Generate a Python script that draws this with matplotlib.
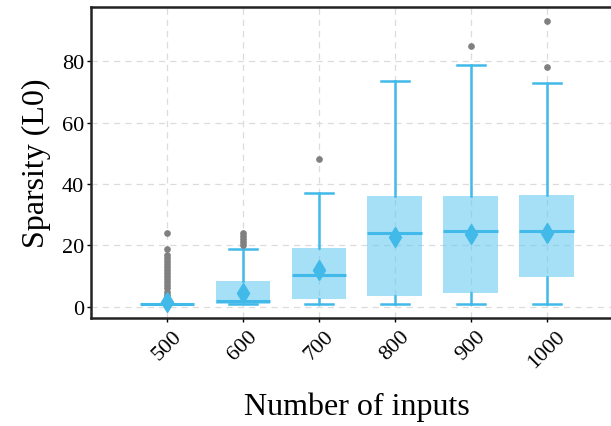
import matplotlib
matplotlib.use('Agg')
import matplotlib.pyplot as plt

# values
inputs   = ['500', '600', '700', '800', '900', '1000']
q1       = [1.0, 1.0, 2.6, 3.7, 4.4, 9.6]
medians  = [1.0, 2.0, 10.4, 24.0, 24.8, 24.8]
q3       = [1.0, 8.5, 19.1, 36.0, 36.0, 36.4]
whislo   = [1.0, 1.0, 1.0, 1.0, 1.0, 1.0]
whishi   = [1.0, 19.0, 37.0, 73.6, 78.7, 72.8]
means    = [1.5, 4.6, 12.1, 22.8, 23.8, 24.2]
outliers = [
  [2, 3, 4, 5, 6, 7, 8, 9, 10, 11, 12, 13, 14, 15, 16, 17, 19, 24],
  [20, 21, 22, 23, 24],
  [48],
  [],
  [85],
  [78, 93],
]

plt.rcParams['font.family'] = ['Liberation Serif', 'DejaVu Serif']

line_c = '#41b9e9'
fill_c = '#5cc8f2'

stats = []
for i in range(len(inputs)):
  stats.append(dict(label=inputs[i], q1=q1[i], med=medians[i], q3=q3[i],
                    whislo=whislo[i], whishi=whishi[i], mean=means[i],
                    fliers=outliers[i]))

fig = plt.figure(figsize=(6.11, 4.27), dpi=100)
ax = fig.add_axes([0.149, 0.253, 0.87, 0.728])

ax.bxp(stats, positions=range(len(inputs)), widths=0.72, patch_artist=True,
       showmeans=True,
       boxprops=dict(facecolor=fill_c, alpha=0.55, linewidth=0),
       medianprops=dict(color=line_c, linewidth=2.2),
       whiskerprops=dict(color=line_c, linewidth=1.8),
       capprops=dict(color=line_c, linewidth=1.8),
       capwidths=0.37,
       meanprops=dict(marker='d', markerfacecolor=line_c, markeredgecolor=line_c,
                      markersize=10),
       flierprops=dict(marker='o', markerfacecolor='#808080',
                       markeredgecolor='#808080', markersize=3.8))

ax.set_xlim(-1, 6)
ax.set_ylim(-3.6, 97.6)
ax.set_yticks([0, 20, 40, 60, 80])
ax.set_xticks(range(len(inputs)))
ax.set_xticklabels(inputs, rotation=45, fontsize=16)
ax.tick_params(axis='y', labelsize=16, length=3, width=1, pad=2)
ax.tick_params(axis='x', length=3, width=1)

ax.grid(True, color='#dcdcdc', linestyle=(0, (5, 4)), linewidth=0.9)
ax.set_axisbelow(True)
for s in ax.spines.values():
  s.set_linewidth(1.8)
  s.set_color('#222222')

ax.set_ylabel('Sparsity (L0)', fontsize=23, labelpad=8)
ax.set_xlabel('Number of inputs', fontsize=23, labelpad=14)

fig.savefig('out.png', dpi=100)
